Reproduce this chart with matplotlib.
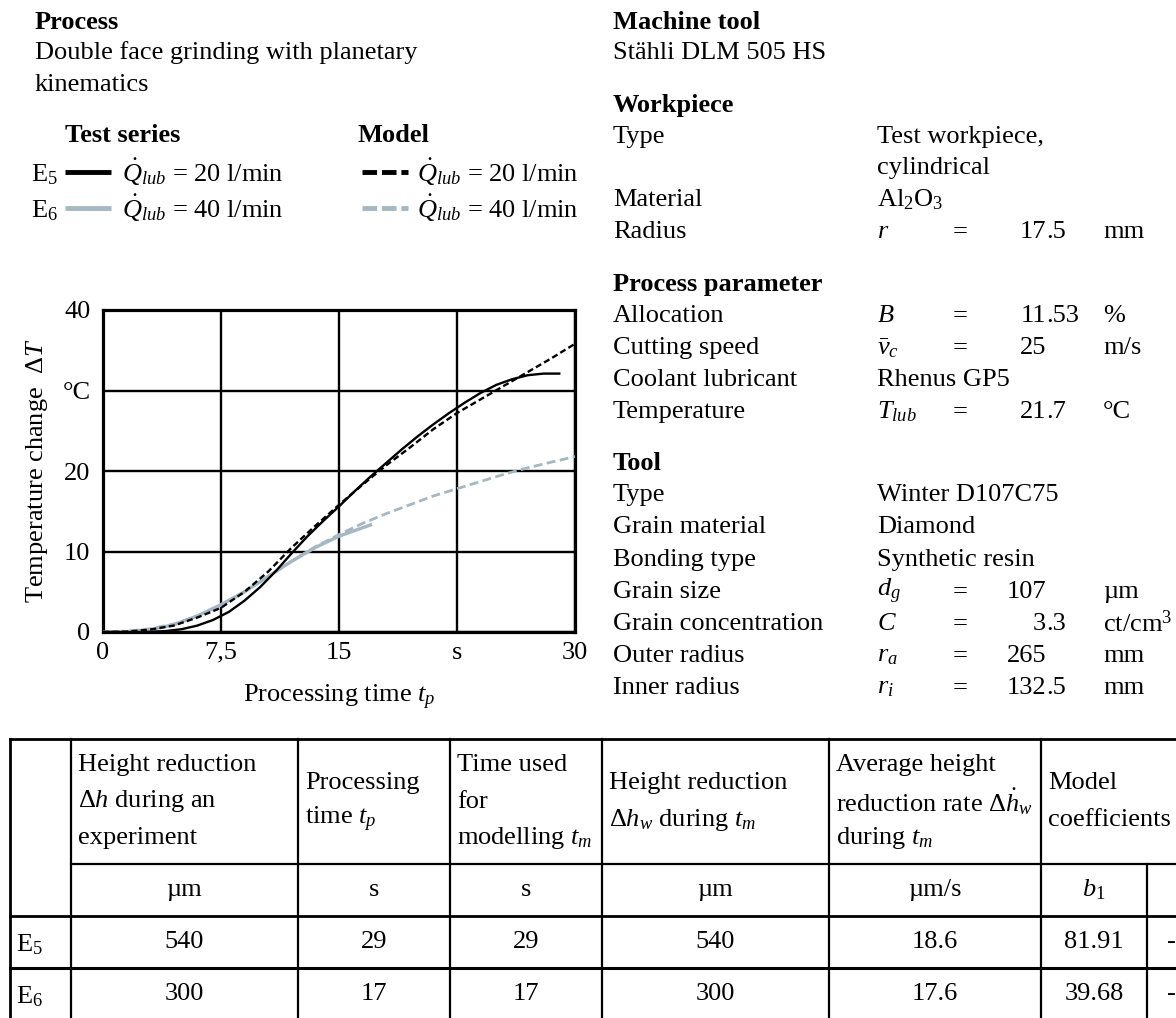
import matplotlib
matplotlib.use("Agg")
import matplotlib.pyplot as plt

plt.rcParams["font.family"] = ["Liberation Serif", "DejaVu Serif"]
plt.rcParams["mathtext.fontset"] = "custom"
plt.rcParams["mathtext.rm"] = "Liberation Serif"
plt.rcParams["mathtext.it"] = "Liberation Serif:italic"
plt.rcParams["mathtext.bf"] = "Liberation Serif:bold"

# ── curve data ────────────────────────────────────────────────────────────────
t_e5 = [0, 1, 2, 3, 4, 5, 6, 7, 8, 9, 10, 11, 12, 13, 14, 15, 16, 17, 18, 19,
        20, 21, 22, 23, 24, 25, 26, 27, 28, 29]
dT_e5 = [0, 0, 0, 0.02, 0.12, 0.35, 0.8, 1.5, 2.5, 3.9, 5.6, 7.6, 9.8, 11.9,
         13.8, 15.6, 17.5, 19.3, 21.0, 22.7, 24.3, 25.8, 27.2, 28.5, 29.7,
         30.7, 31.4, 31.9, 32.1, 32.1]

t_e6 = [0, 1.5, 3, 4.5, 6, 7.5, 9, 10.5, 12, 13.5, 15, 16, 17]
dT_e6 = [0, 0.05, 0.3, 0.9, 2.0, 3.4, 5.0, 6.9, 8.8, 10.5, 11.9, 12.6, 13.3]

t_model = [0, 1.5, 3, 4.5, 6, 7.5, 9, 10.5, 12, 13.5, 15, 16.5, 18, 19.5, 21,
           22.5, 24, 25.5, 27, 28.5, 30]
dT_model_e5 = [0, 0.05, 0.3, 0.8, 1.8, 3.0, 5.0, 7.5, 10.5, 13.2, 15.8, 18.3,
               20.7, 22.9, 25.2, 27.2, 28.9, 30.6, 32.3, 34.0, 35.8]
dT_model_e6 = [0, 0.1, 0.4, 1.0, 2.0, 3.3, 5.0, 6.9, 8.8, 10.6, 12.1, 13.5,
               14.7, 15.8, 16.9, 17.8, 18.7, 19.6, 20.4, 21.1, 21.8]

x_ticks = [0, 7.5, 15, 22.5, 30]
x_tick_labels = ["0", "7,5", "15", "s", "30"]
y_ticks = [0, 10, 20, 30, 40]
y_tick_labels = ["0", "10", "20", "°C", "40"]

# ── legend entries ────────────────────────────────────────────────────────────
series_names = ["E$_5$", "E$_6$"]
flow_rates = [20, 40]

# ── right-hand parameter sheet ────────────────────────────────────────────────
machine_tool = "Stähli DLM 505 HS"
workpiece_type = ["Test workpiece,", "cylindrical"]
workpiece_material = "Al$_2$O$_3$"
radius = ("$r$", "17.5", "mm")
allocation = ("$B$", "11.53", "%")
cutting_speed = ("$\\bar{v}_c$", "25", "m/s")
coolant = "Rhenus GP5"
coolant_temp = ("$T_{lub}$", "21.7", "°C")
tool_text = [("Type", "Winter D107C75"), ("Grain material", "Diamond"),
             ("Bonding type", "Synthetic resin")]
tool_params = [("Grain size", "$d_g$", "107", "µm"),
               ("Grain concentration", "$C$", "3.3", "ct/cm$^3$"),
               ("Outer radius", "$r_a$", "265", "mm"),
               ("Inner radius", "$r_i$", "132.5", "mm")]

# ── table ─────────────────────────────────────────────────────────────────────
table_headers = [["Height reduction", "$\\Delta h$ during an", "experiment"],
                 ["Processing", "time $t_p$"],
                 ["Time used", "for", "modelling $t_m$"],
                 ["Height reduction", "$\\Delta h_w$ during $t_m$"],
                 ["Average height", "reduction rate $\\Delta\\dot{h}_w$", "during $t_m$"],
                 ["Model", "coefficients"]]
table_units = ["µm", "s", "s", "µm", "µm/s", "$b_1$"]
row_labels = ["E$_5$", "E$_6$"]
height_reduction = [540, 300]
processing_time = [29, 17]
modelling_time = [29, 17]
height_reduction_tm = [540, 300]
reduction_rate = [18.6, 17.6]
coef_b1 = [81.91, 39.68]
coef_b2_visible = ["-", "-"]   # only the sign survives at the cropped edge

W, H = 1176, 1018
FS = 19
GREY = "#a4b7c3"

fig = plt.figure(figsize=(W / 100, H / 100), dpi=100, facecolor="white")
bg = fig.add_axes([0, 0, 1, 1])
bg.set_xlim(0, W)
bg.set_ylim(H, 0)
bg.axis("off")


def txt(x, y, s, **kw):
    kw.setdefault("fontsize", FS)
    kw.setdefault("va", "center")
    bg.text(x, y, s, **kw)


# ── left header + legend ──────────────────────────────────────────────────────
txt(35, 22, "Process", fontweight="bold")
txt(35, 53, "Double face grinding with planetary")
txt(35, 85, "kinematics")

txt(65, 135, "Test series", fontweight="bold")
txt(358, 135, "Model", fontweight="bold")
for i, (name, q) in enumerate(zip(series_names, flow_rates)):
    y = 172 + i * 36
    col = "black" if i == 0 else GREY
    txt(31, y + 3, name)
    bg.plot([65, 111], [y, y], color=col, lw=3.5, solid_capstyle="butt")
    txt(122, y, f"$\\dot{{Q}}_{{lub}}$ = {q} l/min")
    bg.plot([362, 408], [y, y], color=col, lw=3.5, dashes=(3, 1),
            dash_capstyle="butt")
    txt(417, y, f"$\\dot{{Q}}_{{lub}}$ = {q} l/min")

# ── right parameter sheet ─────────────────────────────────────────────────────
XL, XS, XE, XD, XU = 613, 877, 960, 1046, 1103


def param_row(y, label, sym, val, unit):
    txt(XL, y, label)
    txt(XS, y, sym)
    txt(XE, y, "=", ha="center")
    if "." in val:
        ip, fp = val.split(".")
        txt(XD, y, ip, ha="right")
        txt(XD, y, "." + fp, ha="left")
    else:
        txt(XD, y, val, ha="right")
    txt(XU, y, unit)


txt(XL, 22, "Machine tool", fontweight="bold")
txt(XL, 53, machine_tool)
txt(XL, 105, "Workpiece", fontweight="bold")
txt(XL, 137, "Type")
txt(XS, 137, workpiece_type[0])
txt(XS, 168, workpiece_type[1])
txt(XL, 200, "Material")
txt(XS, 200, workpiece_material)
param_row(232, "Radius", *radius)

txt(XL, 285, "Process parameter", fontweight="bold")
param_row(316, "Allocation", *allocation)
param_row(348, "Cutting speed", *cutting_speed)
txt(XL, 380, "Coolant lubricant")
txt(XS, 380, coolant)
param_row(412, "Temperature", *coolant_temp)

txt(XL, 463, "Tool", fontweight="bold")
y = 495
for label, val in tool_text:
    txt(XL, y, label)
    txt(XS, y, val)
    y += 32.3
for label, sym, val, unit in tool_params:
    param_row(y, label, sym, val, unit)
    y += 32

# ── chart ─────────────────────────────────────────────────────────────────────
ax = fig.add_axes([103 / W, 1 - 632 / H, 472 / W, 322 / H])
ax.plot(t_e6, dT_e6, color=GREY, lw=2.4, zorder=3)
ax.plot(t_model, dT_model_e6, color=GREY, lw=2.0, dashes=(3.2, 1.6), zorder=3)
ax.plot(t_model, dT_model_e5, color="black", lw=1.7, dashes=(2.6, 1.4), zorder=4)
ax.plot(t_e5, dT_e5, color="black", lw=1.7, zorder=5)

ax.set_xlim(0, 30)
ax.set_ylim(0, 40)
ax.set_xticks(x_ticks)
ax.set_xticklabels(x_tick_labels)
ax.set_yticks(y_ticks)
ax.set_yticklabels(y_tick_labels)
ax.tick_params(length=0, labelsize=FS)
ax.tick_params(axis="x", pad=7)
ax.tick_params(axis="y", pad=9)
ax.grid(True, color="black", lw=1.7)
ax.set_axisbelow(True)
for sp in ax.spines.values():
    sp.set_linewidth(2.3)

txt(37, 471, "Temperature change  $\\Delta T$", rotation=90, ha="center")
txt(339, 697, "Processing time $t_p$", ha="center")

# ── table ─────────────────────────────────────────────────────────────────────
col_x = [10, 71, 298, 450, 602, 829, 1041, 1147, 1260]
row_y = [739, 864, 916, 968, 1020]
LW = 1.6


def hline(y, x0, x1, lw=LW):
    bg.plot([x0, x1], [y, y], color="black", lw=lw, solid_capstyle="projecting")


def vline(x, y0, y1, lw=LW):
    bg.plot([x, x], [y0, y1], color="black", lw=lw, solid_capstyle="projecting")


hline(row_y[0], col_x[0], W + 20, lw=2.0)
hline(row_y[1], col_x[1], W + 20)
hline(row_y[2], col_x[0], W + 20, lw=2.0)
hline(row_y[3], col_x[0], W + 20, lw=2.2)
hline(row_y[4], col_x[0], W + 20, lw=2.0)
for x in col_x[:7]:
    vline(x, row_y[0], H + 20, lw=2.0 if x == col_x[0] else LW)
vline(col_x[7], row_y[1], H + 20)

for j, lines in enumerate(table_headers):
    yc = (row_y[0] + row_y[1]) / 2
    n = len(lines)
    for k, line in enumerate(lines):
        txt(col_x[j + 1] + 7, yc + (k - (n - 1) / 2) * 36.5, line)

for j, u in enumerate(table_units):
    txt((col_x[j + 1] + col_x[j + 2]) / 2, (row_y[1] + row_y[2]) / 2, u, ha="center")

columns = [height_reduction, processing_time, modelling_time,
           height_reduction_tm, reduction_rate, coef_b1]
for i, lab in enumerate(row_labels):
    yc = (row_y[2 + i] + row_y[3 + i]) / 2
    txt(16, yc + 3, lab)
    for j, col in enumerate(columns):
        txt((col_x[j + 1] + col_x[j + 2]) / 2, yc, f"{col[i]}", ha="center")
    txt(col_x[7] + 20, yc, coef_b2_visible[i])

fig.savefig("out.png", dpi=100, facecolor="white")
